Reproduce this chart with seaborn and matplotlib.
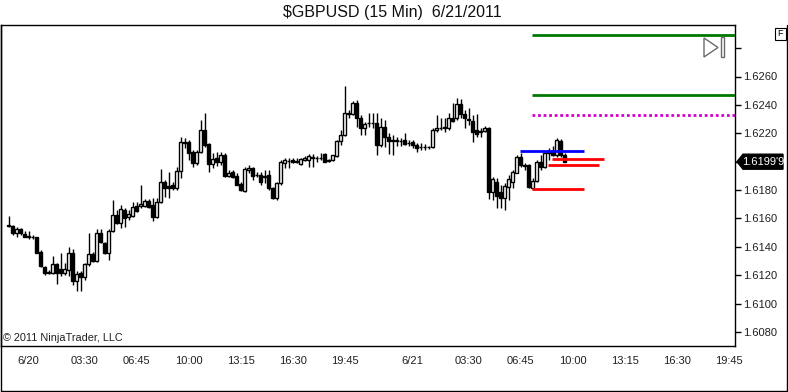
import numpy as np
import pandas as pd
import matplotlib
matplotlib.use("Agg")
import matplotlib.pyplot as plt
import matplotlib.patches as mpatches
import seaborn as sns

# ---------------- data (15-min GBPUSD candles, bar index 0 = 6/20 00:00) ----------------
bar_index = list(range(-5, 135))
open_ = [1.61547, 1.61547, 1.61498, 1.61526, 1.61491, 1.61473, 1.61473, 1.61468, 1.61364, 1.61261,
         1.61218, 1.61216, 1.61280, 1.61241, 1.61218, 1.61237, 1.61355, 1.61160, 1.61213, 1.61188,
         1.61277, 1.61350, 1.61303, 1.61500, 1.61430, 1.61355, 1.61514, 1.61625, 1.61570, 1.61660,
         1.61613, 1.61620, 1.61688, 1.61688, 1.61688, 1.61723, 1.61695, 1.61613, 1.61716, 1.61855,
         1.61829, 1.61836, 1.61813, 1.61935, 1.62141, 1.62141, 1.62070, 1.61993, 1.62066, 1.62223,
         1.62125, 1.61984, 1.62024, 1.61996, 1.62047, 1.61899, 1.61930, 1.61899, 1.61841, 1.61794,
         1.61942, 1.61954, 1.61904, 1.61906, 1.61890, 1.61906, 1.61813, 1.61742, 1.61852, 1.61993,
         1.62005, 1.62012, 1.62001, 1.61984, 1.62012, 1.62012, 1.62033, 1.62024, 1.62024, 1.62052,
         1.62005, 1.62012, 1.62040, 1.62148, 1.62186, 1.62336, 1.62336, 1.62411, 1.62306, 1.62235,
         1.62270, 1.62270, 1.62270, 1.62118, 1.62242, 1.62172, 1.62148, 1.62153, 1.62149, 1.62153,
         1.62132, 1.62141, 1.62118, 1.62101, 1.62101, 1.62100, 1.62101, 1.62223, 1.62235, 1.62235,
         1.62235, 1.62306, 1.62306, 1.62406, 1.62336, 1.62304, 1.62289, 1.62223, 1.62209, 1.62216,
         1.62235, 1.61789, 1.61859, 1.61789, 1.61742, 1.61824, 1.61859, 1.61923, 1.62035, 1.61977,
         1.61977, 1.61813, 1.61866, 1.62000, 1.61961, 1.62059, 1.62075, 1.62047, 1.62146, 1.62047]
high_ = [1.61618, 1.61552, 1.61540, 1.61533, 1.61512, 1.61512, 1.61484, 1.61470, 1.61378, 1.61265,
         1.61237, 1.61336, 1.61287, 1.61357, 1.61287, 1.61399, 1.61385, 1.61230, 1.61230, 1.61287,
         1.61496, 1.61366, 1.61524, 1.61524, 1.61437, 1.61524, 1.61730, 1.61660, 1.61695, 1.61674,
         1.61660, 1.61716, 1.61718, 1.61836, 1.61737, 1.61737, 1.61744, 1.61744, 1.61949, 1.61871,
         1.61927, 1.61857, 1.61965, 1.62176, 1.62167, 1.62153, 1.62082, 1.62082, 1.62294, 1.62341,
         1.62130, 1.62059, 1.62070, 1.62070, 1.62059, 1.61942, 1.61942, 1.61918, 1.61859, 1.61965,
         1.61977, 1.61965, 1.61930, 1.61930, 1.61942, 1.61942, 1.61822, 1.61859, 1.62012, 1.62024,
         1.62026, 1.62023, 1.62026, 1.62024, 1.62040, 1.62054, 1.62051, 1.62040, 1.62063, 1.62061,
         1.62019, 1.62049, 1.62153, 1.62223, 1.62533, 1.62364, 1.62427, 1.62435, 1.62329, 1.62282,
         1.62341, 1.62341, 1.62341, 1.62306, 1.62294, 1.62200, 1.62188, 1.62174, 1.62167, 1.62200,
         1.62153, 1.62153, 1.62130, 1.62132, 1.62125, 1.62111, 1.62235, 1.62329, 1.62308, 1.62306,
         1.62343, 1.62413, 1.62446, 1.62442, 1.62364, 1.62378, 1.62329, 1.62336, 1.62235, 1.62251,
         1.62246, 1.61894, 1.61883, 1.61836, 1.61848, 1.61906, 1.61942, 1.62047, 1.62059, 1.61991,
         1.61984, 1.61883, 1.62012, 1.62047, 1.62070, 1.62096, 1.62111, 1.62167, 1.62160, 1.62061]
low_ = [1.61540, 1.61484, 1.61470, 1.61484, 1.61470, 1.61456, 1.61456, 1.61354, 1.61258, 1.61202,
        1.61209, 1.61209, 1.61139, 1.61195, 1.61202, 1.61195, 1.61132, 1.61092, 1.61089, 1.61167,
        1.61265, 1.61296, 1.61296, 1.61427, 1.61350, 1.61308, 1.61507, 1.61561, 1.61533, 1.61542,
        1.61589, 1.61611, 1.61648, 1.61674, 1.61681, 1.61674, 1.61585, 1.61604, 1.61709, 1.61754,
        1.61744, 1.61801, 1.61801, 1.61885, 1.62096, 1.62012, 1.61965, 1.61977, 1.62059, 1.62106,
        1.61930, 1.61956, 1.61970, 1.61977, 1.61892, 1.61890, 1.61885, 1.61836, 1.61797, 1.61789,
        1.61918, 1.61871, 1.61894, 1.61836, 1.61848, 1.61801, 1.61734, 1.61730, 1.61836, 1.61956,
        1.61954, 1.61991, 1.61991, 1.61977, 1.62005, 1.61963, 1.61963, 1.62000, 1.62012, 1.61998,
        1.61998, 1.62008, 1.62033, 1.62118, 1.62181, 1.62308, 1.62329, 1.62246, 1.62188, 1.62188,
        1.62246, 1.62235, 1.62047, 1.62106, 1.62106, 1.62054, 1.62047, 1.62110, 1.62110, 1.62118,
        1.62110, 1.62094, 1.62070, 1.62082, 1.62082, 1.62089, 1.62094, 1.62211, 1.62223, 1.62211,
        1.62223, 1.62280, 1.62294, 1.62308, 1.62235, 1.62257, 1.62141, 1.62174, 1.62176, 1.62209,
        1.61737, 1.61730, 1.61672, 1.61672, 1.61660, 1.61730, 1.61815, 1.61918, 1.61965, 1.61942,
        1.61813, 1.61801, 1.61859, 1.61942, 1.61954, 1.62012, 1.62040, 1.62033, 1.62033, 1.61998]
close_ = [1.61552, 1.61498, 1.61523, 1.61498, 1.61473, 1.61472, 1.61468, 1.61359, 1.61265, 1.61218,
          1.61223, 1.61280, 1.61216, 1.61218, 1.61244, 1.61355, 1.61158, 1.61209, 1.61190, 1.61277,
          1.61350, 1.61303, 1.61500, 1.61437, 1.61355, 1.61514, 1.61625, 1.61570, 1.61665, 1.61601,
          1.61632, 1.61683, 1.61655, 1.61702, 1.61723, 1.61683, 1.61613, 1.61716, 1.61855, 1.61813,
          1.61815, 1.61813, 1.61935, 1.62141, 1.62132, 1.62063, 1.61993, 1.62070, 1.62223, 1.62118,
          1.61984, 1.62017, 1.61996, 1.62047, 1.61899, 1.61923, 1.61894, 1.61836, 1.61801, 1.61946,
          1.61954, 1.61899, 1.61906, 1.61859, 1.61896, 1.61813, 1.61742, 1.61852, 1.62000, 1.62012,
          1.62008, 1.61998, 1.62007, 1.62017, 1.62028, 1.62040, 1.62028, 1.62026, 1.62028, 1.62000,
          1.62012, 1.62045, 1.62148, 1.62186, 1.62341, 1.62341, 1.62411, 1.62306, 1.62235, 1.62263,
          1.62272, 1.62273, 1.62118, 1.62242, 1.62172, 1.62148, 1.62153, 1.62149, 1.62146, 1.62125,
          1.62134, 1.62118, 1.62094, 1.62101, 1.62100, 1.62101, 1.62223, 1.62235, 1.62236, 1.62241,
          1.62306, 1.62290, 1.62406, 1.62336, 1.62306, 1.62294, 1.62211, 1.62195, 1.62216, 1.62235,
          1.61789, 1.61876, 1.61758, 1.61742, 1.61829, 1.61876, 1.61930, 1.62035, 1.61977, 1.61970,
          1.61820, 1.61866, 1.62000, 1.61961, 1.62059, 1.62075, 1.62047, 1.62153, 1.62047, 1.61999]

# x-axis labels (bar index, text)
xtick_pos = [0, 14, 27, 40, 53, 66, 79, 96, 110, 123, 136, 149, 162, 175]
xtick_lab = ["6/20", "03:30", "06:45", "10:00", "13:15", "16:30", "19:45",
             "6/21", "03:30", "06:45", "10:00", "13:15", "16:30", "19:45"]
ytick_vals = [1.6080, 1.6100, 1.6120, 1.6140, 1.6160, 1.6180, 1.6200, 1.6220, 1.6240, 1.6260, 1.6280]
ytick_labs = ["1.6080", "1.6100", "1.6120", "1.6140", "1.6160", "1.6180", "", "1.6220", "1.6240", "1.6260", ""]

# drawn horizontal levels: price, start bar, end bar, colour, style
level_price = [1.62889, 1.62472, 1.62329, 1.62075, 1.62017, 1.61975, 1.61808]
level_start = [125.9, 125.9, 125.9, 122.9, 130.8, 129.9, 125.9]
level_end = [176.6, 176.6, 176.6, 138.9, 143.9, 142.7, 138.9]
level_color = ["#007800", "#007800", "#d000d0", "#0000ff", "#ff0000", "#ff0000", "#ff0000"]
level_style = ["-", "-", (0, (1, 1)), "-", "-", "-", "-"]
last_price_text = "1.6199'9"
last_price = 1.61999

df = pd.DataFrame({"i": bar_index, "open": open_, "high": high_, "low": low_, "close": close_})

# ---------------- figure ----------------
sns.set_theme(style="white")
plt.rcParams["font.family"] = ["Liberation Sans", "DejaVu Sans"]

W, H = 788, 392
fig = plt.figure(figsize=(W / 100, H / 100), dpi=100)
fig.patch.set_facecolor("white")

def fx(px):
    return px / W

def fy(py):
    return 1 - py / H

ax_l, ax_r, ax_t, ax_b = 0.5, 735, 25, 346
ax = fig.add_axes([fx(ax_l), fy(ax_b), (ax_r - ax_l) / W, (ax_b - ax_t) / H])
ax.set_facecolor("white")

x0 = (ax_l - 28.6) / 4.0
x1 = (ax_r - 28.6) / 4.0
ax.set_xlim(x0, x1)
ax.set_ylim(1.6260 - (ax_b - 76.5) / 14200, 1.6260 + (76.5 - ax_t) / 14200)

# wicks
ax.vlines(df["i"], df["low"], df["high"], color="black", lw=1.0, zorder=2)
# bodies
up = df["close"] >= df["open"]
bottoms = np.minimum(df["open"], df["close"])
heights = np.maximum(np.abs(df["close"] - df["open"]), 0.000015)
ax.bar(df["i"][up], heights[up], bottom=bottoms[up], width=0.72, color="white",
       edgecolor="black", linewidth=1.0, zorder=3)
ax.bar(df["i"][~up], heights[~up], bottom=bottoms[~up], width=0.72, color="black",
       edgecolor="black", linewidth=1.0, zorder=3)

# levels
for p, s, e, c, ls in zip(level_price, level_start, level_end, level_color, level_style):
    ax.hlines(p, s, e, colors=c, linestyles=[ls], lw=2.0, zorder=4)

# axes styling
for sp in ax.spines.values():
    sp.set_color("black")
    sp.set_linewidth(1.0)
ax.yaxis.tick_right()
ax.set_yticks(ytick_vals)
ax.set_yticklabels(ytick_labs)
ax.tick_params(axis="y", direction="out", length=4.5, width=1, color="black",
               labelsize=8, pad=1.5, labelcolor="#202020")
ax.set_xticks(xtick_pos)
ax.set_xticklabels(xtick_lab)
ax.tick_params(axis="x", length=0, labelsize=8, pad=7, labelcolor="#202020")
ax.grid(False)

# copyright
ax.text(0.004, 0.01, "\u00a9 2011 NinjaTrader, LLC", transform=ax.transAxes,
        fontsize=7.8, color="#202020", ha="left", va="bottom")

# title
fig.text(fx(392), fy(13), "$GBPUSD (15 Min)  6/21/2011", ha="center", va="center",
         fontsize=11.5, color="#101010")

# last price marker
ly = 161.7
poly = mpatches.Polygon([[fx(737), fy(ly)], [fx(743), fy(ly - 7.5)], [fx(783), fy(ly - 7.5)],
                         [fx(783), fy(ly + 7.5)], [fx(743), fy(ly + 7.5)]],
                        closed=True, transform=fig.transFigure, facecolor="black",
                        edgecolor="black", clip_on=False)
fig.add_artist(poly)
fig.text(fx(763), fy(ly), last_price_text, ha="center", va="center", fontsize=8, color="white")

# play icon
tri = mpatches.Polygon([[fx(704), fy(38)], [fx(718), fy(47.5)], [fx(704), fy(57)]], closed=True,
                       transform=fig.transFigure, facecolor="none", edgecolor="#6a6a6a", lw=1)
fig.add_artist(tri)
bar_icon = mpatches.Rectangle((fx(721), fy(57)), 3 / W, 20 / H, transform=fig.transFigure,
                              facecolor="white", edgecolor="#6a6a6a", lw=1)
fig.add_artist(bar_icon)

# F box
fbox = mpatches.Rectangle((fx(775), fy(40)), 11 / W, 12 / H, transform=fig.transFigure,
                          facecolor="white", edgecolor="black", lw=0.8)
fig.add_artist(fbox)
fig.text(fx(780.5), fy(34), "F", ha="center", va="center", fontsize=6.5, color="black")

# outer frame (left, right, bottom)
for seg in ([[0.5, 25], [0.5, 391]], [[787, 25], [787, 391]], [[0.5, 391], [787, 391]]):
    fig.add_artist(plt.Line2D([fx(seg[0][0]), fx(seg[1][0])], [fy(seg[0][1]), fy(seg[1][1])],
                              transform=fig.transFigure, color="black", lw=1))

fig.savefig("out.png", dpi=100, facecolor="white")
